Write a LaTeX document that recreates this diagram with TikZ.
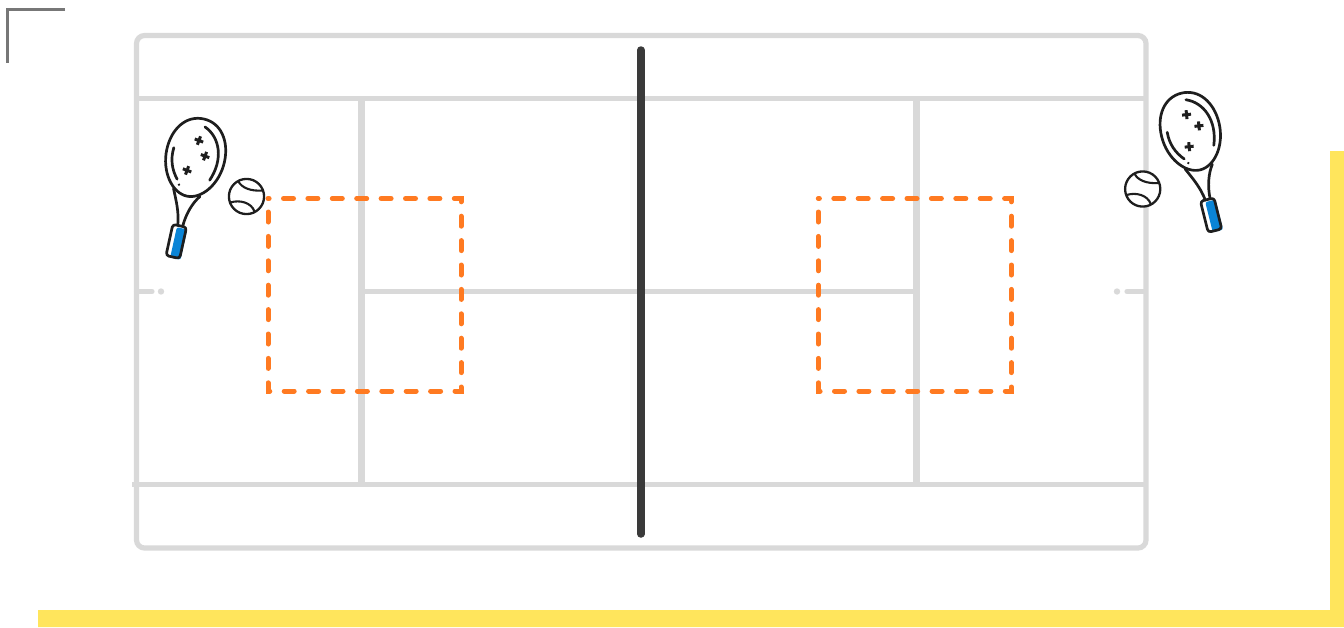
\documentclass[tikz,border=0pt]{standalone}
\usepackage{xcolor}
\definecolor{courtgray}{HTML}{D9D9D9}
\definecolor{netdark}{HTML}{3A3A3A}
\definecolor{zoneorange}{HTML}{FF7A21}
\definecolor{framegold}{HTML}{FFE55C}
\definecolor{cornergray}{HTML}{777777}
\definecolor{gripblue}{HTML}{0A84D6}
\definecolor{inkdark}{HTML}{1E1E1E}

\tikzset{
  racket/.pic={
    % grip
    \fill[gripblue, rounded corners=2pt] (-3,71) rectangle (7.6,102);
    \draw[ink, rounded corners=3pt] (-7.5,69) rectangle (6.5,101);
    % throat
    \draw[ink] (-14.5,34) .. controls (-9,46) and (-4,56) .. (-2.5,69);
    \draw[ink] (13,36) .. controls (7,44) and (3,56) .. (2.5,69);
    % head
    \draw[ink] (0,-40.5) .. controls (18,-40.5) and (29.5,-24) .. (29.5,-3)
      .. controls (29.5,20) and (15,38.5) .. (0,38.5)
      .. controls (-15,38.5) and (-29.5,20) .. (-29.5,-3)
      .. controls (-29.5,-24) and (-18,-40.5) .. (0,-40.5) -- cycle;
    % strings
    \draw[ink] (3,-33) .. controls (20,-26) and (28,-5) .. (19,18);
    \draw[ink] (-23,-6) .. controls (-24,6) and (-20,16) .. (-13,24);
    \fill[inkdark] (-10,29) circle (1.3);
    \foreach \sx/\sy in {0/-18.4, 9.3/-4.5, -5.2/13.3} {
      \draw[ink, line width=3pt, line cap=butt, shift={(\sx,\sy)}, rotate=-8] (-4.5,0) -- (4.5,0) (0,-4.5) -- (0,4.5);
    }
  },
  ball/.pic={
    \draw[ink, line width=2.3pt, fill=white] (0,0) circle (17.6);
    \draw[ink, line width=2.1pt] (-8,-15) .. controls (-5,-9) and (4,-5) .. (16,-6);
    \draw[ink, line width=2.1pt] (-16,6) .. controls (-7,3) and (5,6) .. (8,15);
  }
}

\begin{document}
\begin{tikzpicture}[
  x=1pt, y=-1pt,
  ink/.style={draw=inkdark, line width=2.7pt, line cap=round, line join=round},
  courtline/.style={draw=courtgray, line width=5.2pt},
  zonebox/.style={draw=zoneorange, line width=5pt, line cap=round, dash pattern=on 10pt off 14.4pt, dash phase=10.9pt},
  netline/.style={draw=netdark, line width=7.5pt, line cap=round}
]
\useasboundingbox (0,0) rectangle (1344,627);

% Yellow frame (bottom right)
\fill[framegold] (38,610) -- (1330,610) -- (1330,151) -- (1344,151) -- (1344,627) -- (38,627) -- cycle;

% Corner mark (top left)
\draw[cornergray, line width=2.8pt] (65,9.3) -- (7.3,9.3) -- (7.3,63);

% Court
\draw[courtline, rounded corners=8pt] (136.5,35.5) rectangle (1146,548);
\draw[courtline] (136.5,98.5) -- (1146,98.5);
\draw[courtline] (132,484.5) -- (1146,484.5);
\draw[courtline, line width=7.2pt] (361.5,98.5) -- (361.5,484.5);
\draw[courtline, line width=7.2pt] (916.5,98.5) -- (916.5,484.5);
\draw[courtline, line width=5pt] (361.5,291.5) -- (916.5,291.5);

% Centre marks
\draw[courtline, line cap=round] (136.5,291.5) -- (152,291.5);
\draw[courtline, line cap=round] (1127,291.5) -- (1144,291.5);
\fill[courtgray] (161,291.5) circle (3.2);
\fill[courtgray] (1117,291.5) circle (3.2);

% Dashed zones
\draw[zonebox] (268,198.5) rectangle (461,391);
\draw[zonebox] (818.3,198.5) rectangle (1011.3,391);

% Net
\draw[netline] (640.8,50) -- (640.8,534);

% Rackets and balls
\pic[rotate=-12.4] (racketleft) at (195,158.5) {racket};
\pic[rotate=14] (racketright) at (1191,132.5) {racket};
\pic (ballleft) at (246.5,196.5) {ball};
\pic (ballright) at (1142.7,189) {ball};

\end{tikzpicture}
\end{document}
